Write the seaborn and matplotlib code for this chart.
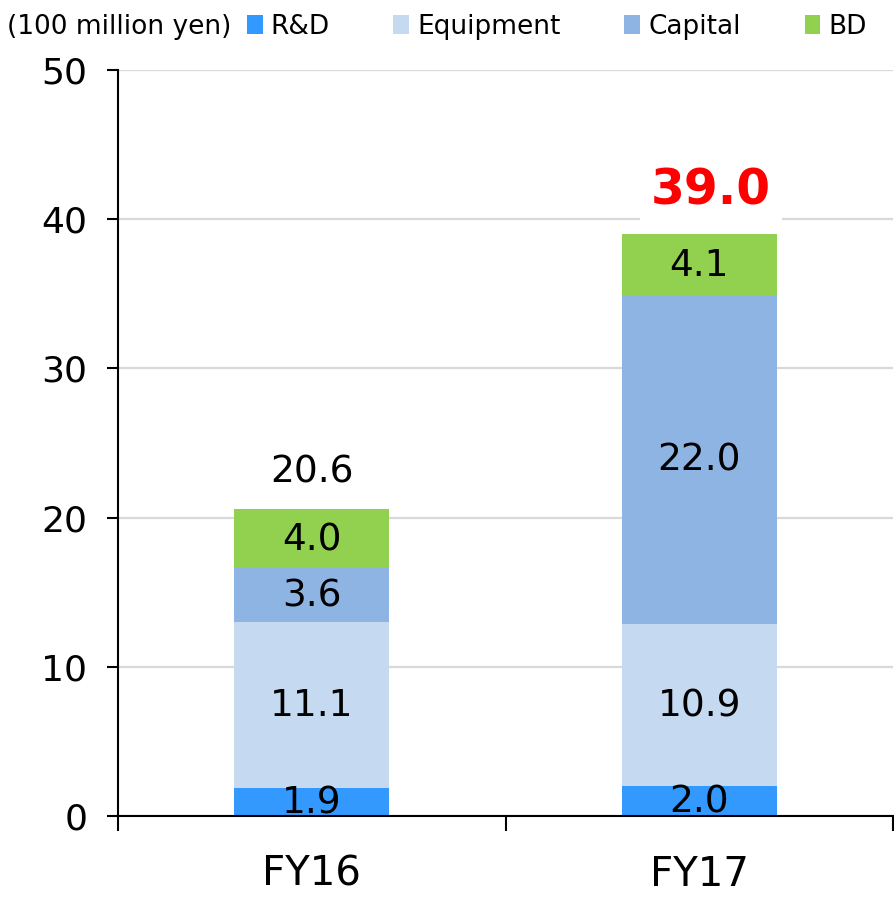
import matplotlib
matplotlib.use("Agg")
import matplotlib.pyplot as plt
import seaborn as sns
import numpy as np
import pandas as pd
from matplotlib.patches import Patch

years = ["FY16", "FY17"]
rnd = [1.9, 2.0]
equipment = [11.1, 10.9]
capital = [3.6, 22.0]
bd = [4.0, 4.1]
totals = [20.6, 39.0]
series_names = ["R&D", "Equipment", "Capital", "BD"]
colors = ["#3399FF", "#C5D9F1", "#8EB4E3", "#92D050"]
yticks = [0, 10, 20, 30, 40, 50]

sns.set_style("white")
plt.rcParams["font.family"] = ["DejaVu Sans"]
plt.rcParams["text.color"] = "black"
plt.rcParams["xtick.color"] = "black"
plt.rcParams["ytick.color"] = "black"
plt.rcParams["axes.labelcolor"] = "black"

fig = plt.figure(figsize=(8.94, 8.98), dpi=100)
ax = fig.add_axes([0.132, 0.0913, 0.867, 0.8307])

layers = [rnd, equipment, capital, bd]
cum = np.cumsum(np.array(layers), axis=0)
# draw from top layer down so lower layers overlap
for i in range(3, -1, -1):
    sns.barplot(x=years, y=cum[i], color=colors[i], width=0.4, ax=ax,
                saturation=1, zorder=3, edgecolor="none", linewidth=0)

ax.set_ylim(0, 50)
ax.set_xlim(-0.5, 1.5)
ax.set_yticks(yticks)
ax.set_yticklabels([str(t) for t in yticks], fontsize=26)
ax.grid(axis="y", color="#D9D9D9", linewidth=1.6, zorder=0)
ax.grid(axis="x", visible=False)
ax.set_xticks([-0.5, 0.5, 1.5])
ax.set_xticklabels(["", "", ""])
ax.set_xticks([0, 1], minor=True)
ax.set_xticklabels(years, minor=True, fontsize=29)
ax.tick_params(axis="x", which="major", length=11, width=1.5, direction="out", bottom=True)
ax.tick_params(axis="x", which="minor", length=0, pad=28)
ax.tick_params(axis="y", length=8, width=1.5, direction="out", left=True, pad=14)
ax.set_xlabel("")
ax.set_ylabel("")
for s in ["top", "right"]:
    ax.spines[s].set_visible(False)
for s in ["left", "bottom"]:
    ax.spines[s].set_color("black")
    ax.spines[s].set_linewidth(1.5)
    ax.spines[s].set_zorder(5)

# segment labels
for j in range(2):
    for i in range(4):
        bottom = cum[i][j] - layers[i][j]
        ax.text(j, bottom + layers[i][j] / 2 - 0.1, f"{layers[i][j]:.1f}", ha="center",
                va="center", fontsize=27, color="black", zorder=6)

ax.text(0, totals[0] + 2.4, f"{totals[0]:.1f}", ha="center", va="center",
        fontsize=27, color="black", zorder=6)
ax.text(1.03, totals[1] + 2.95, f"{totals[1]:.1f}", ha="center", va="center",
        fontsize=35, color="#FF0000", fontweight="bold", zorder=6,
        bbox=dict(facecolor="white", edgecolor="none", pad=8))

fig.text(0.008, 0.97, "(100 million yen)", fontsize=19, ha="left", va="center")
handles = [Patch(facecolor=c, edgecolor="none") for c in colors]
fig.legend(handles, series_names, loc="center left", bbox_to_anchor=(0.276, 0.97),
           ncol=4, frameon=False, fontsize=19, handlelength=0.6, handleheight=0.7,
           handletextpad=0.3, columnspacing=2.42, borderaxespad=0, borderpad=0)

fig.savefig("out.png", dpi=100)
